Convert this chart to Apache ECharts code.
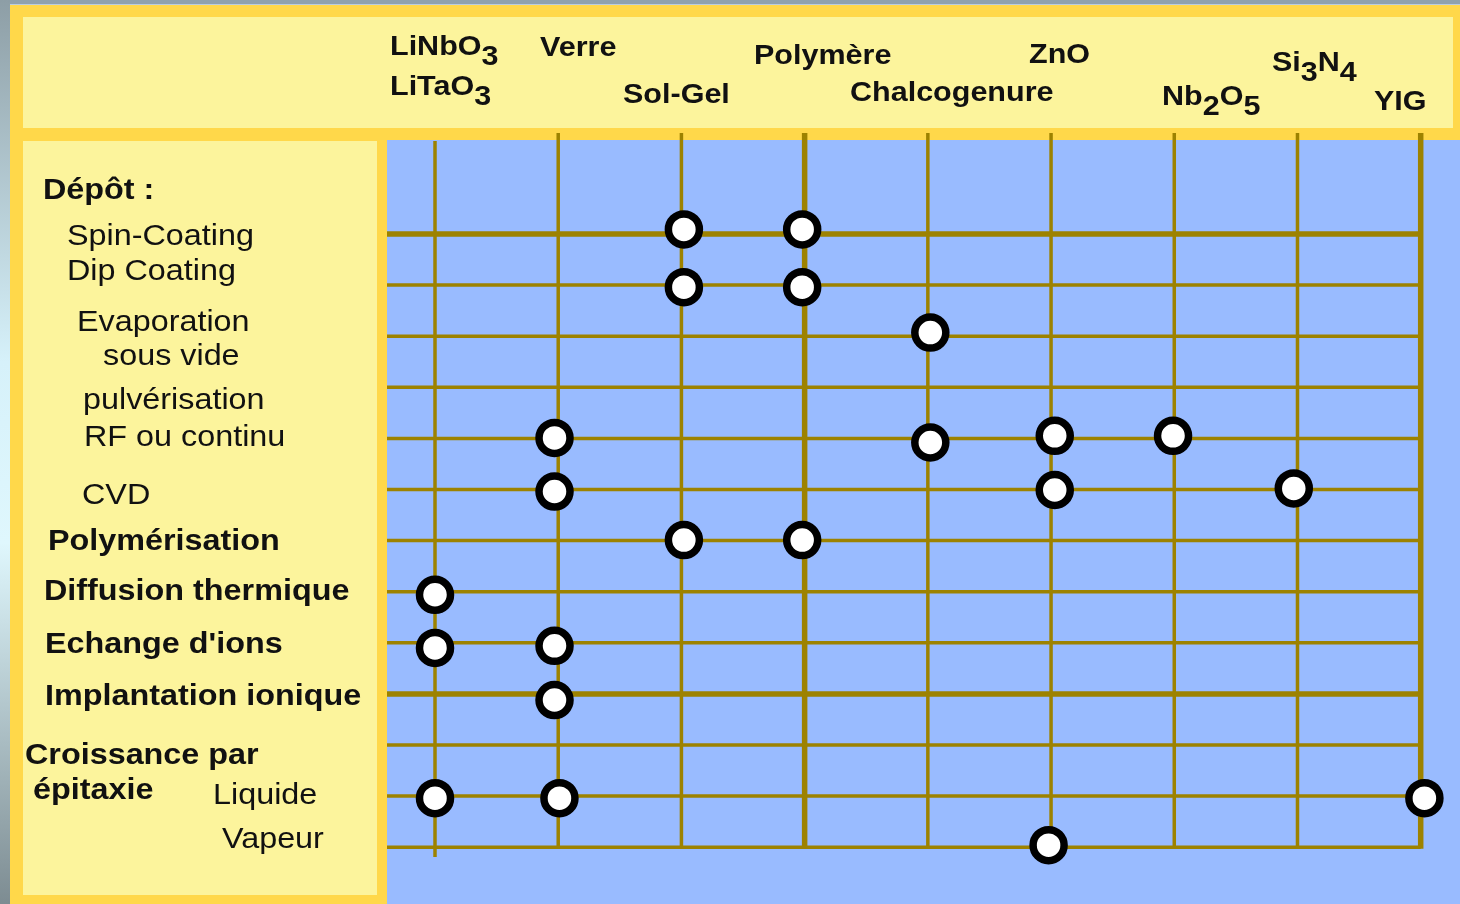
<!DOCTYPE html>
<html><head><meta charset="utf-8">
<script src="https://cdn.jsdelivr.net/npm/echarts@6/dist/echarts.min.js"></script>
<style>html,body{margin:0;padding:0;background:#FFD84A}#c{width:1460px;height:904px}</style>
</head><body><div id="c"></div><script>
// ---- data ----
const materials = ['LiNbO3\nLiTaO3', 'Verre', 'Sol-Gel', 'Polymère', 'Chalcogenure', 'ZnO', 'Nb2O5', 'Si3N4', 'YIG'];
const groupLabels = ['Dépôt :'];
const methods = ['Spin-Coating', 'Dip Coating', 'Evaporation\nsous vide', '', 'pulvérisation\nRF ou continu', 'CVD',
  'Polymérisation', 'Diffusion thermique', "Echange d'ions", 'Implantation ionique', 'Croissance par\népitaxie', 'Liquide', 'Vapeur'];
// [material index, method index] for each marked combination
const points = [
  [0, 7.06], [0, 8.10], [0, 11.04],
  [0.97, 3.99], [0.97, 5.04], [0.97, 8.06], [0.97, 9.12], [1.01, 11.04],
  [2.02, -0.09], [2.02, 1.04], [2.02, 5.99],
  [2.98, -0.09], [2.98, 1.04], [2.98, 5.99],
  [4.02, 1.93], [4.02, 4.08],
  [5.03, 3.95], [5.03, 5.01], [4.98, 11.96],
  [5.99, 3.95],
  [6.97, 4.98],
  [8.03, 11.04]
];

// ---- layout / style (not data) ----
const FONT = "'Liberation Sans', Arial, Helvetica, sans-serif";
const LINE = '#9d8200';
const thickCols = [3, 8];
const thickRows = [0, 9];
const colTop = -1.977, firstColTop = -1.82, colBottom = 12.03, firstColBottom = 12.19;
const xMin = -0.3896, xMax = 8.319, yMin = -1.8395, yMax = 13.1115;
const TEXT_DY = 3;
// header label anchors: [left x, cap-centre y] per line
const headerPos = [[[390, 44], [390, 84]], [[540, 45]], [[623, 92]], [[754, 53]], [[850, 90]], [[1029, 52]], [[1162, 94]], [[1272, 60]], [[1374, 99]]];
const methodPos = [[[67, 234]], [[67, 269]], [[77, 320], [103, 354]], [], [[83, 398], [84, 435]], [[82, 493]],
  [[48, 539]], [[44, 589]], [[45, 642]], [[45, 694]], [[25, 753], [33, 788]], [[213, 793]], [[222, 837]]];
const methodBold = [false, false, false, false, false, false, true, true, true, true, true, false, false];
const groupPos = [[43, 188]];

function subs(t) { return t.replace(/(\d)/g, '{s|$1}'); }

const graphics = [
  { type: 'rect', z: 0, shape: { x: 0, y: 0, width: 1460, height: 5 }, style: { fill: '#8fa2ad' } },
  { type: 'rect', z: 0, shape: { x: 0, y: 0, width: 10, height: 904 }, style: { fill: new echarts.graphic.LinearGradient(0, 0, 0, 1, [
      { offset: 0, color: '#8d9ea6' }, { offset: 0.4, color: '#d6f1fa' }, { offset: 0.6, color: '#dff7fd' }, { offset: 1, color: '#7d8c92' }]) } },
  { type: 'rect', z: 0, shape: { x: 10, y: 4, width: 1450, height: 1 }, style: { fill: '#b9cde0' } },
  { type: 'rect', z: 0, shape: { x: 23, y: 17, width: 1430, height: 111 }, style: { fill: '#FCF49C' } },
  { type: 'rect', z: 0, shape: { x: 23, y: 141, width: 354, height: 754 }, style: { fill: '#FCF49C' } }
];

function addText(str, x, y, size, bold, scale, withSub) {
  const style = {
    text: withSub ? subs(str) : str, fontSize: size, fontWeight: bold ? 'bold' : 'normal', fontFamily: FONT,
    fill: '#111', align: 'left', verticalAlign: 'middle'
  };
  if (withSub) {
    style.rich = { s: { fontSize: size, fontWeight: bold ? 'bold' : 'normal', fontFamily: FONT, fill: '#111', padding: [20, 0, 0, 0] } };
  }
  graphics.push({ type: 'text', z: 10, x: x, y: y + TEXT_DY, scaleX: scale, style: style });
}

materials.forEach((m, i) => {
  m.split('\n').forEach((line, k) => {
    const p = headerPos[i][k];
    addText(line, p[0], p[1], 28, true, 1.09, /\d/.test(line));
  });
});
groupLabels.forEach((g, i) => addText(g, groupPos[i][0], groupPos[i][1], 29, true, 1.115, false));
methods.forEach((m, i) => {
  if (!m) return;
  m.split('\n').forEach((line, k) => {
    const p = methodPos[i][k];
    addText(line, p[0], p[1], 29, methodBold[i], 1.115, false);
  });
});

const chart = echarts.init(document.getElementById('c'), null, { renderer: 'canvas' });
chart.setOption({
  backgroundColor: '#FFD84A',
  animation: false,
  grid: { left: 387, top: 140, right: 0, bottom: 0, show: true, backgroundColor: '#99BBFF', borderWidth: 0 },
  xAxis: { type: 'value', min: xMin, max: xMax, show: false },
  yAxis: { type: 'value', min: yMin, max: yMax, inverse: true, show: false },
  graphic: { elements: graphics },
  series: [
    {
      type: 'custom', z: 2, silent: true, clip: false,
      data: materials.map((m, i) => [i]),
      renderItem: function (params, api) {
        const i = api.value(0);
        const p1 = api.coord([i, i === 0 ? firstColTop : colTop]);
        const p2 = api.coord([i, i === 0 ? firstColBottom : colBottom]);
        return { type: 'line', shape: { x1: p1[0], y1: p1[1], x2: p2[0], y2: p2[1] },
          style: { stroke: LINE, lineWidth: thickCols.indexOf(i) >= 0 ? 5.5 : 3.5 } };
      }
    },
    {
      type: 'custom', z: 2, silent: true, clip: false,
      data: methods.map((m, i) => [i]),
      renderItem: function (params, api) {
        const j = api.value(0);
        const p1 = api.coord([xMin, j]);
        const p2 = api.coord([materials.length - 1, j]);
        return { type: 'line', shape: { x1: p1[0], y1: p1[1], x2: p2[0], y2: p2[1] },
          style: { stroke: LINE, lineWidth: thickRows.indexOf(j) >= 0 ? 5.5 : 3.5 } };
      }
    },
    {
      type: 'scatter', z: 5, silent: true,
      data: points,
      symbol: 'circle', symbolSize: 31,
      itemStyle: { color: '#ffffff', borderColor: '#000000', borderWidth: 7.5, opacity: 1 }
    }
  ]
});
</script></body></html>
